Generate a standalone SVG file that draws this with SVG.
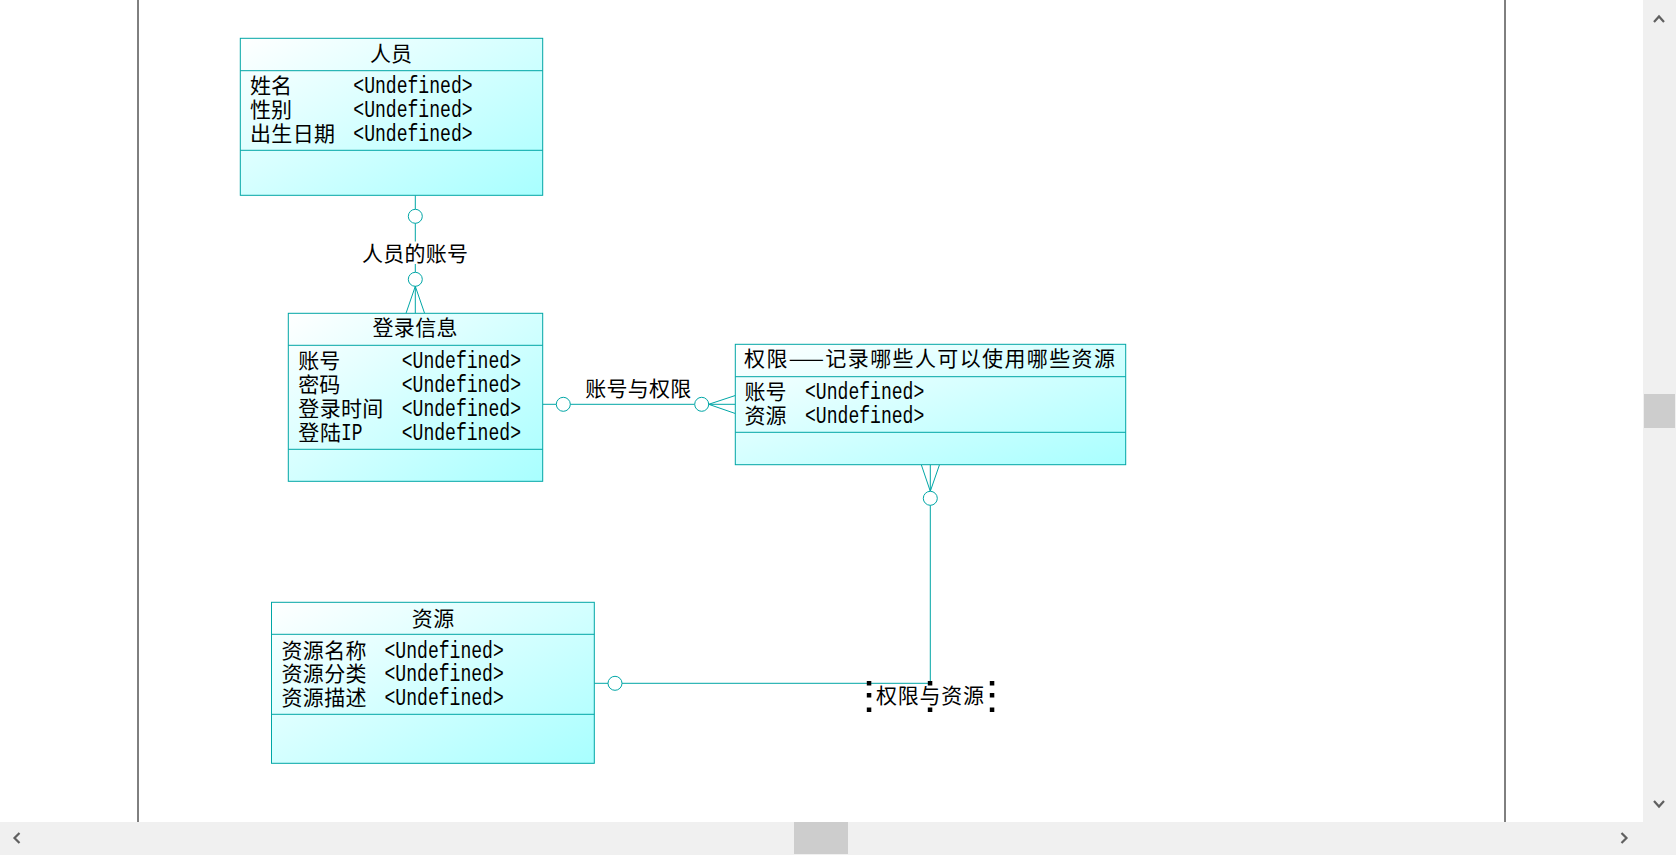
<svg xmlns="http://www.w3.org/2000/svg" width="1676" height="855" viewBox="0 0 1676 855">
<defs>
<linearGradient id="fillg" x1="0" y1="0" x2="1" y2="1">
<stop offset="0" stop-color="#ffffff"/>
<stop offset="1" stop-color="#a8ffff"/>
</linearGradient>
<style>
.box{fill:url(#fillg);stroke:#00a6a6;stroke-width:1}
.div{stroke:#00a6a6;stroke-width:1}
.ln{stroke:#00a6a6;stroke-width:1;fill:none}
.cir{stroke:#00a6a6;stroke-width:1;fill:#ffffff}
.cj{font-family:"Noto Sans CJK SC","Noto Sans CJK JP",sans-serif;font-size:21px;fill:#000}
.mo{font-family:"Liberation Mono",monospace;font-size:23px;fill:#000}
.hd{fill:#000}
.sb{fill:#f0f0f0}
.th{fill:#cdcdcd}
.ar{stroke:#606060;stroke-width:2.2;fill:none}
</style>
</defs>
<rect width="1676" height="855" fill="#ffffff"/>
<line x1="138" y1="0" x2="138" y2="822" stroke="#000" stroke-width="1"/>
<line x1="1505" y1="0" x2="1505" y2="822" stroke="#000" stroke-width="1"/>

<g id="connectors">
<!-- 人员 - 登录信息 -->
<line class="ln" x1="415.3" y1="195.3" x2="415.3" y2="209.3"/>
<circle class="cir" cx="415.3" cy="216.3" r="7"/>
<line class="ln" x1="415.3" y1="223.3" x2="415.3" y2="241.5"/>
<line class="ln" x1="415.3" y1="264" x2="415.3" y2="272.3"/>
<circle class="cir" cx="415.3" cy="279.3" r="7"/>
<line class="ln" x1="415.3" y1="286.3" x2="406" y2="313.3"/>
<line class="ln" x1="415.3" y1="286.3" x2="415.3" y2="313.3"/>
<line class="ln" x1="415.3" y1="286.3" x2="424.6" y2="313.3"/>
<text class="cj" x="415" y="261.3" text-anchor="middle" textLength="106" lengthAdjust="spacing">人员的账号</text>
<!-- 登录信息 - 权限 -->
<line class="ln" x1="542.7" y1="404.3" x2="556.3" y2="404.3"/>
<circle class="cir" cx="563.3" cy="404.3" r="7"/>
<line class="ln" x1="570.3" y1="404.3" x2="694.7" y2="404.3"/>
<circle class="cir" cx="701.7" cy="404.3" r="7"/>
<line class="ln" x1="708.7" y1="404.3" x2="735.3" y2="395.5"/>
<line class="ln" x1="708.7" y1="404.3" x2="735.3" y2="404.3"/>
<line class="ln" x1="708.7" y1="404.3" x2="735.3" y2="413.5"/>
<text class="cj" x="638.3" y="396.3" text-anchor="middle" textLength="106" lengthAdjust="spacing">账号与权限</text>
<!-- 权限 - 资源 -->
<line class="ln" x1="921.3" y1="464.7" x2="930.3" y2="491.3"/>
<line class="ln" x1="930.3" y1="464.7" x2="930.3" y2="491.3"/>
<line class="ln" x1="939.5" y1="464.7" x2="930.3" y2="491.3"/>
<circle class="cir" cx="930.3" cy="498.3" r="7"/>
<polyline class="ln" points="930.3,505.3 930.3,683.3 622,683.3"/>
<circle class="cir" cx="615" cy="683.3" r="7"/>
<line class="ln" x1="608" y1="683.3" x2="594.3" y2="683.3"/>
<text class="cj" x="930" y="703" text-anchor="middle" textLength="108" lengthAdjust="spacing">权限与资源</text>
<rect class="hd" x="866.8" y="681" width="4.5" height="4.5"/>
<rect class="hd" x="927.8" y="681" width="4.5" height="4.5"/>
<rect class="hd" x="989.8" y="681" width="4.5" height="4.5"/>
<rect class="hd" x="866.8" y="693" width="4.5" height="4.5"/>
<rect class="hd" x="989.8" y="693" width="4.5" height="4.5"/>
<rect class="hd" x="866.8" y="707.5" width="4.5" height="4.5"/>
<rect class="hd" x="927.8" y="707.5" width="4.5" height="4.5"/>
<rect class="hd" x="989.8" y="707.5" width="4.5" height="4.5"/>
</g>

<g id="node-renyuan">
<rect class="box" x="240.3" y="38.3" width="302.4" height="157"/>
<line class="div" x1="240.3" y1="70.7" x2="542.7" y2="70.7"/>
<line class="div" x1="240.3" y1="150.3" x2="542.7" y2="150.3"/>
<text class="cj" x="391" y="61.3" text-anchor="middle" textLength="42" lengthAdjust="spacing">人员</text>
<text class="cj" x="250" y="93">姓名</text>
<text class="cj" x="250" y="117.3">性别</text>
<text class="cj" x="250" y="141.3" textLength="85" lengthAdjust="spacing">出生日期</text>
<text class="mo" x="353.3" y="92.6" textLength="119.3" lengthAdjust="spacingAndGlyphs">&lt;Undefined&gt;</text>
<text class="mo" x="353.3" y="116.9" textLength="119.3" lengthAdjust="spacingAndGlyphs">&lt;Undefined&gt;</text>
<text class="mo" x="353.3" y="140.9" textLength="119.3" lengthAdjust="spacingAndGlyphs">&lt;Undefined&gt;</text>
</g>

<g id="node-denglu">
<rect class="box" x="288.3" y="313.3" width="254.4" height="168"/>
<line class="div" x1="288.3" y1="345.3" x2="542.7" y2="345.3"/>
<line class="div" x1="288.3" y1="449.3" x2="542.7" y2="449.3"/>
<text class="cj" x="415" y="335.3" text-anchor="middle" textLength="85" lengthAdjust="spacing">登录信息</text>
<text class="cj" x="298.3" y="368">账号</text>
<text class="cj" x="298.3" y="392">密码</text>
<text class="cj" x="298.3" y="416.3" textLength="85" lengthAdjust="spacing">登录时间</text>
<text x="298.3" y="440.3"><tspan class="cj" textLength="42.6" lengthAdjust="spacing">登陆</tspan><tspan class="mo" x="341" textLength="21.5" lengthAdjust="spacingAndGlyphs">IP</tspan></text>
<text class="mo" x="401.7" y="367.6" textLength="119.3" lengthAdjust="spacingAndGlyphs">&lt;Undefined&gt;</text>
<text class="mo" x="401.7" y="391.6" textLength="119.3" lengthAdjust="spacingAndGlyphs">&lt;Undefined&gt;</text>
<text class="mo" x="401.7" y="415.9" textLength="119.3" lengthAdjust="spacingAndGlyphs">&lt;Undefined&gt;</text>
<text class="mo" x="401.7" y="439.9" textLength="119.3" lengthAdjust="spacingAndGlyphs">&lt;Undefined&gt;</text>
</g>

<g id="node-quanxian">
<rect class="box" x="735.3" y="344.3" width="390.4" height="120.4"/>
<line class="div" x1="735.3" y1="376.7" x2="1125.7" y2="376.7"/>
<line class="div" x1="735.3" y1="432.3" x2="1125.7" y2="432.3"/>
<text class="cj" x="744" y="366.3" textLength="371" lengthAdjust="spacing">权限——记录哪些人可以使用哪些资源</text>
<text class="cj" x="744.5" y="399">账号</text>
<text class="cj" x="744.5" y="423">资源</text>
<text class="mo" x="805" y="398.6" textLength="119.3" lengthAdjust="spacingAndGlyphs">&lt;Undefined&gt;</text>
<text class="mo" x="805" y="422.6" textLength="119.3" lengthAdjust="spacingAndGlyphs">&lt;Undefined&gt;</text>
</g>

<g id="node-ziyuan">
<rect class="box" x="271.5" y="602.3" width="322.8" height="161"/>
<line class="div" x1="271.5" y1="634.3" x2="594.3" y2="634.3"/>
<line class="div" x1="271.5" y1="714.3" x2="594.3" y2="714.3"/>
<text class="cj" x="433" y="626.3" text-anchor="middle" textLength="42.6" lengthAdjust="spacing">资源</text>
<text class="cj" x="281.5" y="658" textLength="85" lengthAdjust="spacing">资源名称</text>
<text class="cj" x="281.5" y="681.3" textLength="85" lengthAdjust="spacing">资源分类</text>
<text class="cj" x="281.5" y="705.3" textLength="85" lengthAdjust="spacing">资源描述</text>
<text class="mo" x="384.5" y="657.6" textLength="119.3" lengthAdjust="spacingAndGlyphs">&lt;Undefined&gt;</text>
<text class="mo" x="384.5" y="680.9" textLength="119.3" lengthAdjust="spacingAndGlyphs">&lt;Undefined&gt;</text>
<text class="mo" x="384.5" y="704.9" textLength="119.3" lengthAdjust="spacingAndGlyphs">&lt;Undefined&gt;</text>
</g>

<g id="scrollbars">
<rect class="sb" x="1643" y="0" width="33" height="855"/>
<rect class="sb" x="0" y="822" width="1676" height="33"/>
<rect class="th" x="1644" y="394" width="31" height="34"/>
<rect class="th" x="794" y="822" width="54" height="32"/>
<polyline class="ar" points="1654,22 1659,16.5 1664,22"/>
<polyline class="ar" points="1654,801 1659,806.5 1664,801"/>
<polyline class="ar" points="19.5,833 14.5,838 19.5,843"/>
<polyline class="ar" points="1621.5,833 1626.5,838 1621.5,843"/>
</g>
</svg>
